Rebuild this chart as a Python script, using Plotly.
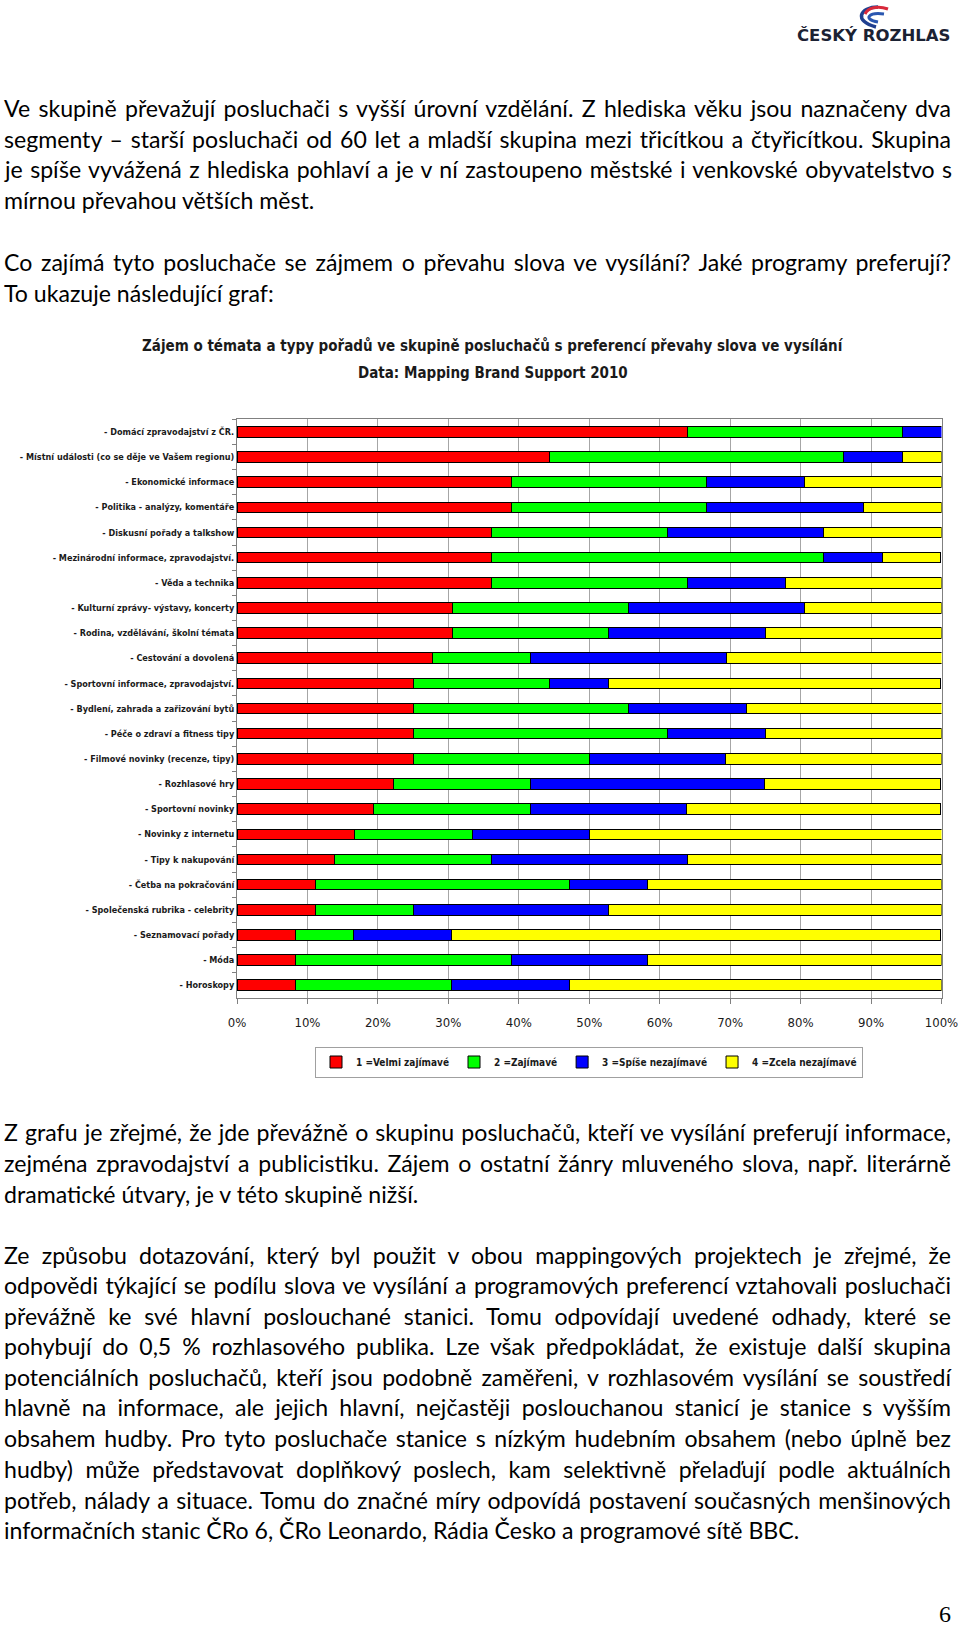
import plotly.graph_objects as go

# ---------------- data ----------------
categories = [
    "- Domácí zpravodajství z ČR.",
    "- Místní události (co se děje ve Vašem regionu)",
    "- Ekonomické informace",
    "- Politika - analýzy, komentáře",
    "- Diskusní pořady a talkshow",
    "- Mezinárodní informace, zpravodajství.",
    "- Věda a technika",
    "- Kulturní zprávy- výstavy, koncerty",
    "- Rodina, vzdělávání, školní témata",
    "- Cestování a dovolená",
    "- Sportovní informace, zpravodajství.",
    "- Bydlení, zahrada a zařizování bytů",
    "- Péče o zdraví a fitness tipy",
    "- Filmové novinky (recenze, tipy)",
    "- Rozhlasové hry",
    "- Sportovní novinky",
    "- Novinky z internetu",
    "- Tipy k nakupování",
    "- Četba na pokračování",
    "- Společenská rubrika - celebrity",
    "- Seznamovací pořady",
    "- Móda",
    "- Horoskopy",
]
velmi_zajimave = [63.9, 44.4, 38.9, 38.9, 36.1, 36.1, 36.1, 30.6, 30.6, 27.8, 25.0, 25.0,
                  25.0, 25.0, 22.2, 19.4, 16.7, 13.9, 11.1, 11.1, 8.3, 8.3, 8.3]
zajimave = [30.6, 41.7, 27.8, 27.8, 25.0, 47.2, 27.8, 25.0, 22.2, 13.9, 19.4, 30.6,
            36.1, 25.0, 19.4, 22.2, 16.7, 22.2, 36.1, 13.9, 8.3, 30.6, 22.2]
spise_nezajimave = [5.6, 8.3, 13.9, 22.2, 22.2, 8.3, 13.9, 25.0, 22.2, 27.8, 8.3, 16.7,
                    13.9, 19.4, 33.3, 22.2, 16.7, 27.8, 11.1, 27.8, 13.9, 19.4, 16.7]
zcela_nezajimave = [0.0, 5.6, 19.4, 11.1, 16.7, 8.3, 22.2, 19.4, 25.0, 30.6, 47.2, 27.8,
                    25.0, 30.6, 25.0, 36.1, 50.0, 36.1, 41.7, 47.2, 69.4, 41.7, 52.8]
series_names = ["1 =Velmi zajímavé", "2 =Zajímavé", "3 =Spíše nezajímavé", "4 =Zcela nezajímavé"]
series_colors = ["#FF0000", "#00FF00", "#0000FF", "#FFFF00"]
tick_values = [0, 10, 20, 30, 40, 50, 60, 70, 80, 90, 100]
tick_labels = ["0%", "10%", "20%", "30%", "40%", "50%", "60%", "70%", "80%", "90%", "100%"]

chart_title = ["Zájem o témata a typy pořadů ve skupině posluchačů s preferencí převahy slova ve vysílání",
               "Data: Mapping Brand Support 2010"]

para_top = [
    "Ve skupině převažují posluchači s vyšší úrovní vzdělání. Z hlediska věku jsou naznačeny dva",
    "segmenty – starší posluchači od 60 let a mladší skupina mezi třicítkou a čtyřicítkou. Skupina",
    "je spíše vyvážená z hlediska pohlaví a je v ní zastoupeno městské i venkovské obyvatelstvo s",
    "mírnou převahou větších měst.",
    "Co zajímá tyto posluchače se zájmem o převahu slova ve vysílání? Jaké programy preferují?",
    "To ukazuje následující graf:",
]
para_bottom = [
    "Z grafu je zřejmé, že jde převážně o skupinu posluchačů, kteří ve vysílání preferují informace,",
    "zejména zpravodajství a publicistiku. Zájem o ostatní žánry mluveného slova, např. literárně",
    "dramatické útvary, je v této skupině nižší.",
    "Ze způsobu dotazování, který byl použit v obou mappingových projektech je zřejmé, že",
    "odpovědi týkající se podílu slova ve vysílání a programových preferencí vztahovali posluchači",
    "převážně ke své hlavní poslouchané stanici. Tomu odpovídají uvedené odhady, které se",
    "pohybují do 0,5 % rozhlasového publika. Lze však předpokládat, že existuje další skupina",
    "potenciálních posluchačů, kteří jsou podobně zaměřeni, v rozhlasovém vysílání se soustředí",
    "hlavně na informace, ale jejich hlavní, nejčastěji poslouchanou stanicí je stanice s vyšším",
    "obsahem hudby. Pro tyto posluchače stanice s nízkým hudebním obsahem (nebo úplně bez",
    "hudby) může představovat doplňkový poslech, kam selektivně přelaďují podle aktuálních",
    "potřeb, nálady a situace. Tomu do značné míry odpovídá postavení současných menšinových",
    "informačních stanic ČRo 6, ČRo Leonardo, Rádia Česko a programové sítě BBC.",
]

# ---------------- layout helpers ----------------
W, H = 960, 1627
def px(x):
    return x / W
def py(y):
    return 1 - y / H

NARROW = "Liberation Sans Narrow, Arial Narrow, DejaVu Sans Condensed, sans-serif"
BODY = "Lato, Carlito, Calibri, sans-serif"
BODY_SIZE = 23.1
TEXT_LEFT = 4
TEXT_WIDTH = 947

fig = go.Figure()
for name, vals, col in zip(series_names,
                           [velmi_zajimave, zajimave, spise_nezajimave, zcela_nezajimave],
                           series_colors):
    fig.add_trace(go.Bar(
        y=categories, x=vals, orientation="h", name=name,
        marker=dict(color=col, line=dict(color="#000000", width=1)),
        hoverinfo="name+x",
    ))

annotations = []
justify_idx = []

def body_line(t, y, j):
    if j:
        justify_idx.append(len(annotations))
    annotations.append(dict(text=t, x=px(TEXT_LEFT), y=py(y), xref="paper", yref="paper",
                            xanchor="left", yanchor="middle", align="left", showarrow=False,
                            width=TEXT_WIDTH + 6, borderpad=0, borderwidth=0,
                            font=dict(family=BODY, size=BODY_SIZE, color="#000000")))

top_y = [108, 139, 169, 200, 261.5, 292.6]
top_just = [True, True, True, False, True, False]
for t, y, j in zip(para_top, top_y, top_just):
    body_line(t, y, j)

bot_y = [1132, 1163, 1193.5, 1254.7, 1284.8, 1316, 1346, 1377, 1407, 1438, 1468.5, 1499.6, 1529.7]
bot_just = [True, True, False, True, True, True, True, True, True, True, True, True, False]
for t, y, j in zip(para_bottom, bot_y, bot_just):
    body_line(t, y, j)

for t, y in zip(chart_title, [345.6, 372.6]):
    annotations.append(dict(text=t, x=px(493), y=py(y), xref="paper", yref="paper",
                            xanchor="center", yanchor="middle", showarrow=False,
                            font=dict(family=NARROW, size=15, color="#1a1a1a", weight="bold")))

# logo text and page number
annotations.append(dict(text="ČESKÝ ROZHLAS", x=px(873), y=py(36), xref="paper", yref="paper",
                        xanchor="center", yanchor="middle", showarrow=False,
                        font=dict(family="DejaVu Sans", size=16.5, color="#1b2233", weight="bold")))
annotations.append(dict(text="6", x=px(953), y=py(1614), xref="paper", yref="paper",
                        xanchor="right", yanchor="middle", showarrow=False,
                        font=dict(family="Liberation Serif", size=24, color="#000000")))

def curve(x0, y0, x1, y1, x2, y2, x3, y3):
    return (f"M {px(x0)},{py(y0)} C {px(x1)},{py(y1)} {px(x2)},{py(y2)} {px(x3)},{py(y3)}")

# logo swirl (decorative)
shapes = [
    dict(type="path", xref="paper", yref="paper", path=curve(878, 7, 860, 7, 853, 21, 876, 27),
         line=dict(color="#1f3f8f", width=3.5)),
    dict(type="path", xref="paper", yref="paper", path=curve(884, 14, 869, 12, 862, 19, 878, 22),
         line=dict(color="#2a56b0", width=3)),
    dict(type="path", xref="paper", yref="paper", path=curve(888, 9, 877, 5, 868, 8, 865, 14),
         line=dict(color="#d8283a", width=3)),
]

fig.update_layout(
    width=W, height=H, autosize=False,
    margin=dict(l=0, r=0, t=0, b=0, pad=0, autoexpand=False),
    paper_bgcolor="white", plot_bgcolor="white",
    barmode="stack", bargap=0.58,
    showlegend=True,
    legend=dict(orientation="h", x=px(589), xanchor="center", y=py(1062), yanchor="middle",
                bordercolor="#a0a0a0", borderwidth=1, bgcolor="white",
                font=dict(family=NARROW, size=10, color="#1a1a1a", weight="bold"),
                itemwidth=30, traceorder="normal", itemclick=False, itemdoubleclick=False,
                tracegroupgap=0),
    xaxis=dict(domain=[px(237), px(941.5)], range=[0, 100], tickvals=tick_values,
               ticktext=tick_labels, showgrid=True, gridcolor="#a6a6a6", gridwidth=1,
               ticks="outside", ticklen=5, tickcolor="#808080", showline=True,
               linecolor="#808080", mirror=True, zeroline=False, ticklabelstandoff=8,
               automargin=False,
               tickfont=dict(family=NARROW, size=13, color="#1a1a1a"), fixedrange=True),
    yaxis=dict(domain=[py(997.8), py(419.3)], autorange="reversed", type="category",
               ticks="outside", tickson="boundaries", ticklen=4, tickcolor="#808080",
               showline=True, linecolor="#808080", mirror=True, showgrid=False,
               automargin=False,
               tickfont=dict(family=NARROW, size=9, color="#1a1a1a", weight="bold"),
               fixedrange=True),
    annotations=annotations,
    shapes=shapes,
    hovermode="closest",
)

js = """
document.body.style.margin = '0px';
document.body.style.padding = '0px';
var gd = document.getElementById('{plot_id}');
var JIDX = %s;
var TARGET = %f;
function justifyLines(){
  var groups = gd.querySelectorAll('g.annotation');
  groups.forEach(function(g){
    var i = parseInt(g.getAttribute('data-index'));
    if (isNaN(i)) return;
    g.querySelectorAll('[clip-path]').forEach(function(e){ e.removeAttribute('clip-path'); });
    if (JIDX.indexOf(i) < 0) return;
    var t = g.querySelector('text.annotation-text');
    if (!t) return;
    t.style.wordSpacing = '0px';
    var L = t.getComputedTextLength();
    var s = (t.textContent.match(/ /g) || []).length;
    if (s > 0) { t.style.wordSpacing = ((TARGET - L) / s) + 'px'; }
  });
}
justifyLines();
if (gd.on) { gd.on('plotly_afterplot', justifyLines); }
""" % (str(justify_idx), float(TEXT_WIDTH))

fig.write_html("out.html", include_plotlyjs=True, full_html=True, post_script=js,
               config={"displayModeBar": False, "responsive": False})
